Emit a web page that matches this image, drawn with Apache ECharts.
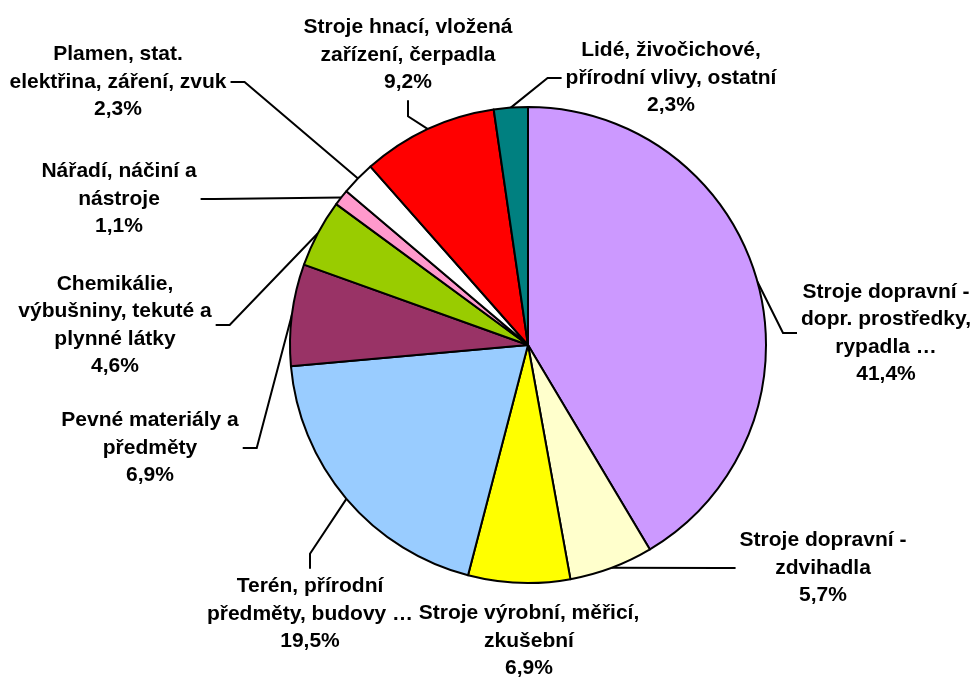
<!DOCTYPE html>
<html>
<head>
<meta charset="utf-8">
<script src="https://cdn.jsdelivr.net/npm/echarts@6/dist/echarts.min.js"></script>
<style>
html,body{margin:0;padding:0;background:#fff;}
#chart{width:976px;height:677px;}
</style>
</head>
<body>
<div id="chart"></div>
<script>
// ---- data ----
const categories = [
  'Stroje dopravní -\ndopr. prostředky,\nrypadla …',
  'Stroje dopravní -\nzdvihadla',
  'Stroje výrobní, měřicí,\nzkušební',
  'Terén, přírodní\npředměty, budovy …',
  'Pevné materiály a\npředměty',
  'Chemikálie,\nvýbušniny, tekuté a\nplynné látky',
  'Nářadí, náčiní a\nnástroje',
  'Plamen, stat.\nelektřina, záření, zvuk',
  'Stroje hnací, vložená\nzařízení, čerpadla',
  'Lidé, živočichové,\npřírodní vlivy, ostatní'
];
const percentValues = [41.4, 5.7, 6.9, 19.5, 6.9, 4.6, 1.1, 2.3, 9.2, 2.3];
const sliceColors = ['#CC99FF', '#FFFFCC', '#FFFF00', '#99CCFF', '#993366',
                     '#99CC00', '#FF99CC', '#FFFFFF', '#FF0000', '#008080'];

// ---- layout (label block centres and leader attachment side) ----
const labelPlacement = [
  { x: 886, y: 333, side: 'left' },
  { x: 823, y: 568, side: 'left' },
  { x: 529, y: 641, side: 'none' },
  { x: 310, y: 614, side: 'top' },
  { x: 150, y: 448, side: 'right' },
  { x: 115, y: 325, side: 'right' },
  { x: 119, y: 199, side: 'right' },
  { x: 118, y: 82,  side: 'right' },
  { x: 408, y: 55,  side: 'bottom' },
  { x: 671, y: 78,  side: 'left' }
];
const PIE_CENTER = [528, 345];
const PIE_RADIUS = 238;

const total = percentValues.reduce((a, b) => a + b, 0);
function anchorFor(idx) {
  let cum = 0;
  for (let i = 0; i < idx; i++) cum += percentValues[i];
  const mid = (cum + percentValues[idx] / 2) / total * Math.PI * 2;
  return [PIE_CENTER[0] + PIE_RADIUS * Math.sin(mid), PIE_CENTER[1] - PIE_RADIUS * Math.cos(mid)];
}

const chart = echarts.init(document.getElementById('chart'), null, { renderer: 'canvas' });

const data = categories.map((name, i) => {
  const item = { name: name, value: percentValues[i], itemStyle: { color: sliceColors[i] } };
  if (labelPlacement[i].side === 'none') item.labelLine = { show: false };
  return item;
});

chart.setOption({
  animation: false,
  backgroundColor: '#ffffff',
  series: [{
    type: 'pie',
    center: PIE_CENTER,
    radius: PIE_RADIUS,
    startAngle: 90,
    clockwise: true,
    avoidLabelOverlap: false,
    data: data,
    itemStyle: { borderColor: '#000000', borderWidth: 2 },
    emphasis: { disabled: true },
    label: {
      show: true,
      position: 'outside',
      color: '#000000',
      fontFamily: '"Liberation Sans", Arial, sans-serif',
      fontWeight: 'bold',
      fontSize: 21,
      lineHeight: 27.5,
      align: 'center',
      formatter: function (p) {
        return p.name + '\n' + p.value.toFixed(1).replace('.', ',') + '%';
      }
    },
    labelLine: {
      show: true,
      length: 10,
      length2: 10,
      lineStyle: { color: '#000000', width: 2 }
    },
    labelLayout: function (p) {
      const L = labelPlacement[p.dataIndex];
      const w = p.labelRect.width, h = p.labelRect.height;
      const a = (p.labelLinePoints && p.labelLinePoints[0]) ? p.labelLinePoints[0] : anchorFor(p.dataIndex);
      let pts = null;
      const seg = 14, gap = 4;
      if (L.side === 'left') {
        const ex = L.x - w / 2 - gap;
        pts = [a, [ex - seg, L.y], [ex, L.y]];
      } else if (L.side === 'right') {
        const ex = L.x + w / 2 + gap;
        pts = [a, [ex + seg, L.y], [ex, L.y]];
      } else if (L.side === 'bottom') {
        const ey = L.y + h / 2 + gap;
        pts = [a, [L.x, ey + 16], [L.x, ey]];
      } else if (L.side === 'top') {
        const ey = L.y - h / 2 - gap;
        pts = [a, [L.x, ey - 15], [L.x, ey]];
      }
      const out = { x: L.x, y: L.y, align: 'center', verticalAlign: 'middle', hideOverlap: false };
      if (pts) out.labelLinePoints = pts;
      return out;
    }
  }]
});
</script>
</body>
</html>
